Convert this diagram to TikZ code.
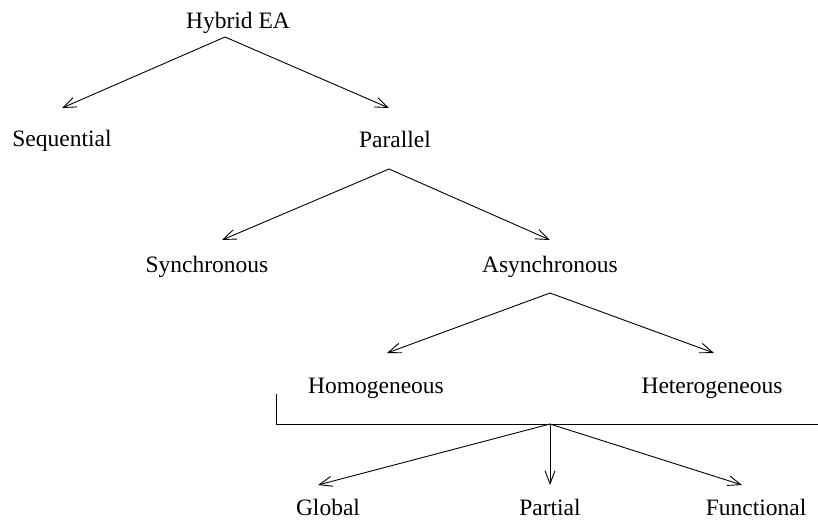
\documentclass[tikz,border=0pt]{standalone}
\usepackage{fontspec}
\setmainfont{Liberation Serif}
\usetikzlibrary{arrows.meta}
\begin{document}
\begin{tikzpicture}[x=1pt,y=-1pt,
  lbl/.style={anchor=base,inner sep=0pt,font=\fontsize{23.5}{28}\selectfont},
  arr/.style={-{Straight Barb[length=13pt,width=10pt,line width=0.9pt]},line width=0.9pt},
  plain/.style={line width=0.9pt}]
\useasboundingbox (0,0) rectangle (818,523);
% labels
\node[lbl] (hyb) at (238,28) {Hybrid EA};
\node[lbl] (seq) at (62,146) {Sequential};
\node[lbl] (par) at (395,147) {Parallel};
\node[lbl] (syn) at (207,272) {Synchronous};
\node[lbl] (asy) at (550,272) {Asynchronous};
\node[lbl] (hom) at (376,393) {Homogeneous};
\node[lbl] (het) at (712,393) {Heterogeneous};
\node[lbl] (glo) at (328,515) {Global};
\node[lbl] (prt) at (550,515) {Partial};
\node[lbl] (fun) at (756,515) {Functional};
% connection points
\coordinate (hybA) at (225,37);
\coordinate (seqT) at (62,108);
\coordinate (parT) at (389,108);
\coordinate (parA) at (389,169);
\coordinate (synT) at (222,240);
\coordinate (asyT) at (550,240);
\coordinate (asyA) at (550,293);
\coordinate (homT) at (387,353);
\coordinate (hetT) at (714,353);
\coordinate (brL) at (276,394);
\coordinate (brC) at (276,424);
\coordinate (brR) at (818,424);
\coordinate (brA) at (550,424);
\coordinate (gloT) at (318,485);
\coordinate (prtT) at (550,485);
\coordinate (funT) at (742,485);
% connectors
\draw[arr] (hybA) -- (seqT);
\draw[arr] (hybA) -- (parT);
\draw[arr] (parA) -- (synT);
\draw[arr] (parA) -- (asyT);
\draw[arr] (asyA) -- (homT);
\draw[arr] (asyA) -- (hetT);
\draw[plain] (brL) -- (brC) -- (brR);
\draw[arr] (brA) -- (gloT);
\draw[arr] (brA) -- (prtT);
\draw[arr] (brA) -- (funT);
\end{tikzpicture}
\end{document}
